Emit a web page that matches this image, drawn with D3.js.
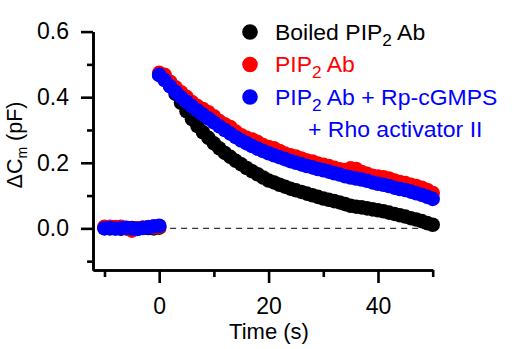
<!DOCTYPE html>
<html>
<head>
<meta charset="utf-8">
<script src="https://cdn.jsdelivr.net/npm/d3@7"></script>
<style>
  html, body { margin: 0; padding: 0; background: #fff; }
  svg { display: block; font-family: "Liberation Sans", Arial, sans-serif; }
</style>
</head>
<body>
<svg id="chart" width="513" height="349"></svg>
<script>
// Sampling times (s)
const baselineTime = [-10, -9, -8, -7, -6, -5, -4, -3, -2, -1, 0];
const decayTime = [0, 1, 2, 3, 4, 5, 6, 7, 8, 9, 10, 11, 12, 13, 14, 15, 16, 17, 18, 19, 20,
  21, 22, 23, 24, 25, 26, 27, 28, 29, 30, 31, 32, 33, 34, 35, 36, 37, 38, 39, 40,
  41, 42, 43, 44, 45, 46, 47, 48, 49, 50];

// ΔCm (pF) before stimulation
const boiledBaseline = [0.001, 0.000, 0.002, -0.001, 0.000, 0.001, 0.000, 0.002, 0.001, 0.000, 0.002];
const pip2Baseline   = [0.005, 0.005, 0.004, 0.005, 0.001, -0.007, 0.000, 0.002, 0.004, 0.003, 0.005];
const rpBaseline     = [0.000, 0.001, -0.001, 0.000, 0.002, 0.000, -0.002, 0.001, 0.003, 0.006, 0.008];

// ΔCm (pF) after stimulation
const boiledDecay = [0.468, 0.455, 0.435, 0.410, 0.383, 0.357, 0.333, 0.312, 0.293, 0.276, 0.259,
  0.244, 0.230, 0.218, 0.206, 0.195, 0.184, 0.174, 0.165, 0.155, 0.146,
  0.140, 0.133, 0.127, 0.121, 0.116, 0.111, 0.106, 0.101, 0.096, 0.091,
  0.087, 0.083, 0.079, 0.074, 0.069, 0.066, 0.064, 0.061, 0.058, 0.055,
  0.052, 0.048, 0.044, 0.040, 0.036, 0.031, 0.027, 0.022, 0.016, 0.011];
const pip2Decay = [0.474, 0.468, 0.447, 0.430, 0.415, 0.401, 0.385, 0.373, 0.364, 0.354, 0.342,
  0.327, 0.317, 0.309, 0.295, 0.284, 0.276, 0.271, 0.263, 0.254, 0.248,
  0.244, 0.236, 0.228, 0.223, 0.219, 0.213, 0.207, 0.204, 0.198, 0.194,
  0.190, 0.185, 0.180, 0.178, 0.183, 0.181, 0.172, 0.166, 0.160, 0.158,
  0.156, 0.152, 0.146, 0.141, 0.138, 0.133, 0.129, 0.124, 0.117, 0.108];
const rpDecay = [0.468, 0.452, 0.433, 0.416, 0.400, 0.386, 0.372, 0.359, 0.347, 0.335, 0.323,
  0.311, 0.300, 0.289, 0.278, 0.268, 0.259, 0.251, 0.243, 0.236, 0.229,
  0.223, 0.217, 0.211, 0.205, 0.200, 0.195, 0.190, 0.186, 0.181, 0.177,
  0.173, 0.168, 0.164, 0.159, 0.155, 0.152, 0.149, 0.145, 0.140, 0.136,
  0.133, 0.129, 0.124, 0.120, 0.117, 0.112, 0.107, 0.102, 0.096, 0.090];

const seriesNames = ["Boiled", "PIP2", "Rp"];
const seriesColors = ["#000000", "#ff0000", "#0000ff"];

const xTicksMajor = [0, 20, 40];
const xTicksMinor = [-10, 10, 30, 50];
const yTicksMajor = [0.0, 0.2, 0.4, 0.6];
const yTicksMinor = [-0.1, 0.1, 0.3, 0.5];

const svg = d3.select("#chart");

const x = d3.scaleLinear().domain([-12.1, 50]).range([93, 432.7]);
const y = d3.scaleLinear().domain([-0.127, 0.6]).range([270, 31.6]);

// zero reference line
svg.append("line")
  .attr("x1", x(2)).attr("x2", x(50))
  .attr("y1", y(0)).attr("y2", y(0))
  .attr("stroke", "#333").attr("stroke-width", 1.2)
  .attr("stroke-dasharray", "6,5");

// data points
const series = [
  { base: boiledBaseline, decay: boiledDecay },
  { base: pip2Baseline, decay: pip2Decay },
  { base: rpBaseline, decay: rpDecay }
];
series.forEach((s, i) => {
  const pts = baselineTime.map((t, j) => [t, s.base[j]])
    .concat(decayTime.map((t, j) => [t, s.decay[j]]));
  svg.append("g").attr("class", "series-" + seriesNames[i])
    .selectAll("circle").data(pts).join("circle")
    .attr("cx", d => x(d[0]))
    .attr("cy", d => y(d[1]))
    .attr("r", 7.3)
    .attr("fill", seriesColors[i]);
});

// axes
function styleAxis(g) {
  g.selectAll("path, line").attr("stroke", "#000").attr("stroke-width", 2.6);
  g.selectAll("text").attr("font-size", 23).attr("fill", "#000")
    .attr("font-family", "'Liberation Sans', Arial, sans-serif");
}

svg.append("g").attr("transform", `translate(${x.range()[0]},0)`)
  .call(d3.axisLeft(y).tickValues(yTicksMinor).tickSize(6).tickSizeOuter(0).tickFormat(""))
  .call(styleAxis);
svg.append("g").attr("transform", `translate(${x.range()[0]},0)`)
  .call(d3.axisLeft(y).tickValues(yTicksMajor).tickSize(12).tickSizeOuter(0)
    .tickPadding(12).tickFormat(d3.format(".1f")))
  .call(styleAxis);

svg.append("g").attr("transform", `translate(0,${y.range()[0]})`)
  .call(d3.axisBottom(x).tickValues(xTicksMinor).tickSize(7).tickSizeOuter(0).tickFormat(""))
  .call(styleAxis);
svg.append("g").attr("transform", `translate(0,${y.range()[0]})`)
  .call(d3.axisBottom(x).tickValues(xTicksMajor).tickSize(13).tickSizeOuter(0)
    .tickPadding(15).tickFormat(d3.format("d")))
  .call(styleAxis);

// axis titles
svg.append("text")
  .attr("x", 269).attr("y", 339)
  .attr("text-anchor", "middle").attr("font-size", 22)
  .text("Time (s)");

const yTitle = svg.append("text")
  .attr("transform", "translate(22,145) rotate(-90)")
  .attr("text-anchor", "middle").attr("font-size", 21.5);
yTitle.append("tspan").text("ΔC");
yTitle.append("tspan").attr("font-size", 14).attr("dy", 5).text("m");
yTitle.append("tspan").attr("dy", -5).text(" (pF)");

// legend
const legend = svg.append("g");
const legendRows = [
  { y: 32, color: seriesColors[0], parts: [["Boiled PIP", 0], ["2", 1], [" Ab", 0]] },
  { y: 64.5, color: seriesColors[1], parts: [["PIP", 0], ["2", 1], [" Ab", 0]] },
  { y: 97, color: seriesColors[2], parts: [["PIP", 0], ["2", 1], [" Ab + Rp-cGMPS", 0]] }
];
legendRows.forEach(row => {
  legend.append("circle").attr("cx", 250).attr("cy", row.y).attr("r", 7.8).attr("fill", row.color);
  const t = legend.append("text")
    .attr("transform", `translate(275,${row.y + 7.5}) scale(1.045,1)`)
    .attr("font-size", 22).attr("fill", row.color);
  let shifted = false;
  row.parts.forEach(([str, sub]) => {
    const sp = t.append("tspan").text(str);
    if (sub) { sp.attr("font-size", 16.5).attr("dy", 6); shifted = true; }
    else if (shifted) { sp.attr("dy", -6); shifted = false; }
  });
});
legend.append("text")
  .attr("transform", "translate(308,137) scale(1.045,1)")
  .attr("font-size", 22).attr("fill", seriesColors[2])
  .text("+ Rho activator II");
</script>
</body>
</html>
